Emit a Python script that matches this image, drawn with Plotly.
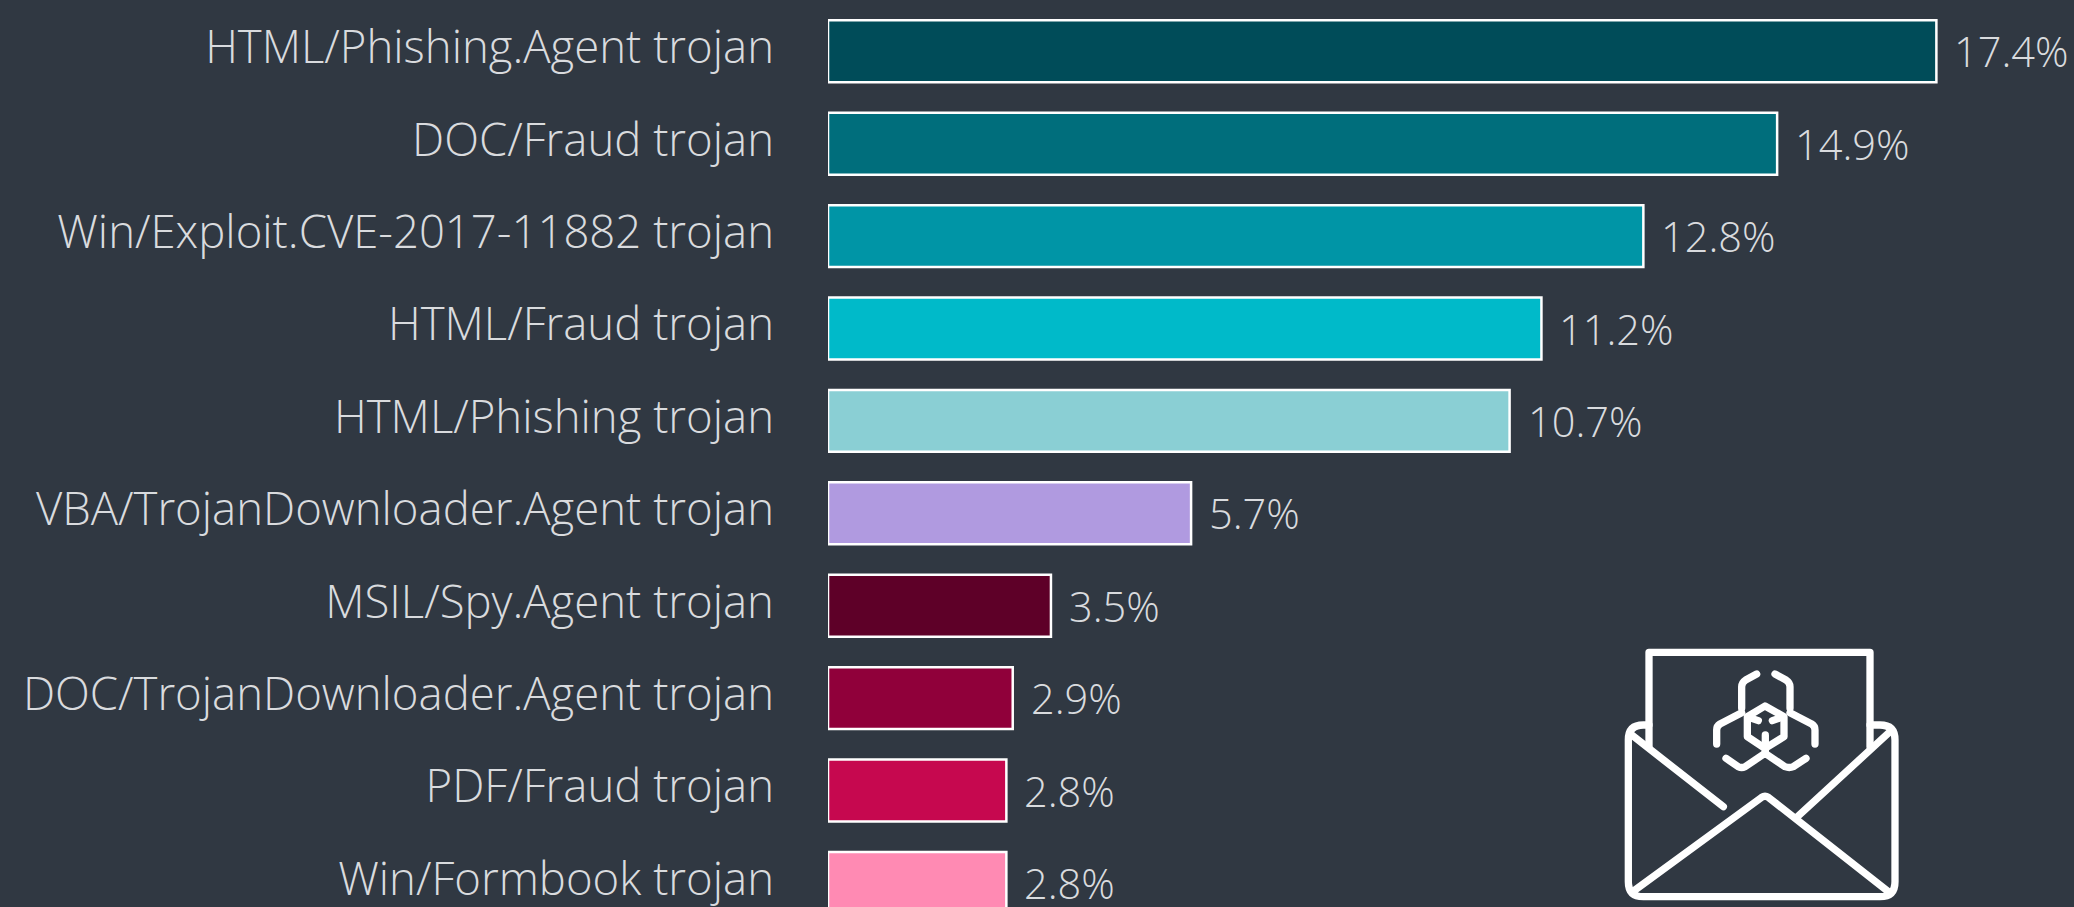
import plotly.graph_objects as go

categories = ["HTML/Phishing.Agent trojan", "DOC/Fraud trojan", "Win/Exploit.CVE-2017-11882 trojan",
              "HTML/Fraud trojan", "HTML/Phishing trojan", "VBA/TrojanDownloader.Agent trojan",
              "MSIL/Spy.Agent trojan", "DOC/TrojanDownloader.Agent trojan", "PDF/Fraud trojan", "Win/Formbook trojan"]
values = [17.4, 14.9, 12.8, 11.2, 10.7, 5.7, 3.5, 2.9, 2.8, 2.8]
colors = ["#004c59", "#006e7c", "#0095a6", "#00bac9", "#8acfd4", "#b09ae0", "#5e0028", "#90003a", "#c6084f", "#ff8ab3"]

W, H = 2074, 907
BG = "#303842"
TXT = "#d9dbde"
LEFT = 828
PX_PER_UNIT = 63.7
BAND = 92.4
C0 = 51.3

fig = go.Figure(go.Bar(x=values, y=categories, orientation="h", marker=dict(color=colors, line=dict(color="white", width=2.5)), width=0.67, hoverinfo="skip"))

for c, v in zip(categories, values):
    fig.add_annotation(x=v, y=c, text=f"{v}%", showarrow=False, xanchor="left", xshift=16, yshift=0,
                       font=dict(family="Open Sans", size=41.5, color=TXT, weight=300))

# icon, traced in zoomed-crop coordinates
def X(z): return (1580 + z / 3 - LEFT) / (W - LEFT)
def Y(z): return 1 - (620 + z / 3) / H
def path(cmds):
    out = []
    for c in cmds:
        if isinstance(c, str):
            out.append(c)
        else:
            out.append(f"{X(c[0]):.5f},{Y(c[1]):.5f}")
    return " ".join(out)

icon = [
    ["M", (207, 380), "L", (207, 97), "L", (870, 97), "L", (870, 380)],
    ["M", (207, 315), "L", (190, 315), "Q", (145, 315), (145, 360), "L", (145, 785), "Q", (145, 830), (190, 830),
     "L", (900, 830), "Q", (945, 830), (945, 785), "L", (945, 360), "Q", (945, 315), (900, 315), "L", (870, 315)],
    ["M", (155, 345), "L", (430, 560)],
    ["M", (930, 335), "L", (650, 592)],
    ["M", (165, 810), "L", (545, 532), "Q", (555, 525), (565, 532), "L", (925, 815)],
    ["M", (530, 162), "L", (497, 180), "Q", (485, 188), (485, 200), "L", (485, 265)],
    ["M", (585, 162), "L", (618, 180), "Q", (630, 188), (630, 200), "L", (630, 265)],
    ["M", (555, 258), "L", (612, 290), "L", (612, 350), "L", (555, 385), "L", (502, 350), "L", (502, 290), "Z"],
    ["M", (410, 372), "L", (410, 330), "Q", (410, 318), (420, 312), "L", (485, 278)],
    ["M", (705, 372), "L", (705, 330), "Q", (705, 318), (695, 312), "L", (630, 278)],
    ["M", (438, 415), "L", (475, 440), "Q", (485, 445), (495, 440), "L", (555, 400), "L", (615, 440),
     "Q", (628, 445), (640, 440), "L", (678, 415)],
    ["M", (556, 345), "L", (556, 400)],
    ["M", (515, 295), "L", (535, 302)],
    ["M", (597, 295), "L", (577, 302)],
]
shapes = [dict(type="path", xref="paper", yref="paper", path=path(p), line=dict(color="white", width=7.3), layer="above") for p in icon]

top = -C0 / BAND
fig.update_layout(
    width=W, height=H, margin=dict(l=LEFT, r=0, t=0, b=0, autoexpand=False), paper_bgcolor=BG, plot_bgcolor=BG, showlegend=False, shapes=shapes,
    xaxis=dict(range=[0, (W - LEFT) / PX_PER_UNIT], visible=False),
    yaxis=dict(type="category", categoryorder="array", categoryarray=categories, range=[top + H / BAND, top],
               showgrid=False, showline=False, zeroline=False, ticks="", ticklabelstandoff=53, ticklabelshift=4,
               tickfont=dict(family="Open Sans", size=45.5, color=TXT, weight=300)),
)
fig.write_html("out.html", config={"displayModeBar": False}, post_script=(
    "document.body.style.margin='0';document.body.style.overflow='hidden';"
    "document.querySelectorAll('.shapelayer path').forEach(function(p){p.style.strokeLinecap='round';p.style.strokeLinejoin='round';});"))
